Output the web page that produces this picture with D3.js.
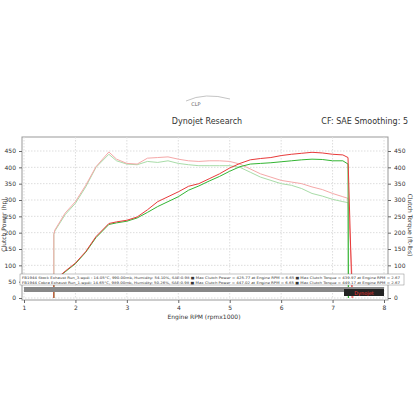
<!DOCTYPE html><html><head><meta charset="utf-8"><script src="https://d3js.org/d3.v7.min.js"></script>
<style>body{margin:0;background:#fff}text{font-family:"DejaVu Sans",sans-serif}</style></head><body><svg id="c" width="416" height="416"></svg>
<script>
const rpm = [1.58,1.6,1.8,2.0,2.2,2.4,2.65,2.8,3.0,3.2,3.4,3.6,3.8,4.0,4.2,4.4,4.6,4.8,5.0,5.2,5.4,5.6,5.8,6.0,6.2,6.4,6.6,6.8,7.0,7.2,7.3];
const powerStock = [40,55,80,105,140,185,225,230,235,245,262,280,295,310,330,343,358,372,388,402,410,412,414,417,420,423,425,424,420,420,410];
const powerCobra = [40,55,82,107,142,188,228,233,238,248,270,295,310,325,342,350,365,380,398,412,423,427,430,436,440,443,446,444,440,438,430];
const torqueStock = [195,205,255,290,340,400,440,420,410,408,418,415,420,412,408,405,405,405,405,400,385,370,360,350,345,335,320,312,302,295,292];
const torqueCobra = [195,208,260,295,345,402,447,425,412,410,428,430,432,425,420,418,420,420,418,410,395,380,370,360,355,350,340,332,320,310,305];
const xTicks=[1,2,3,4,5,6,7,8], yTicks=[0,50,100,150,200,250,300,350,400,450];
const svg=d3.select("#c");
const x=d3.scaleLinear().domain([1,8]).range([24,384]);
const y=d3.scaleLinear().domain([0,450]).range([298,151]);
const pTop=137,pBot=300;
svg.append("rect").attr("x",22).attr("y",pTop).attr("width",366).attr("height",pBot-pTop).attr("fill","#fff").attr("stroke","#999");
xTicks.forEach(t=>svg.append("line").attr("x1",x(t)).attr("x2",x(t)).attr("y1",pTop).attr("y2",pBot).attr("stroke","#ddd").attr("stroke-dasharray","1.5,1.5"));
yTicks.forEach(t=>svg.append("line").attr("x1",22).attr("x2",388).attr("y1",y(t)).attr("y2",y(t)).attr("stroke","#ddd").attr("stroke-dasharray","1.5,1.5"));
const sty=g=>{g.select(".domain").remove();g.selectAll("line").attr("stroke","#666");g.selectAll("text").attr("font-size",6).attr("fill","#333")};
svg.append("g").attr("transform","translate(0,"+pBot+")").call(d3.axisBottom(x).tickValues(xTicks).tickFormat(d3.format("d")).tickSize(3)).call(sty);
svg.append("g").attr("transform","translate(22,0)").call(d3.axisLeft(y).tickValues(yTicks).tickSize(3)).call(sty);
svg.append("g").attr("transform","translate(388,0)").call(d3.axisRight(y).tickValues(yTicks).tickSize(3)).call(sty);
const line=v=>d3.line().x((d,i)=>x(rpm[i])).y(d=>y(d))(v);
const drop=(v,xe,c,w)=>{svg.append("path").attr("d",line(v)+"L"+x(xe)+","+y(0)).attr("fill","none").attr("stroke",c).attr("stroke-width",w);
 svg.append("line").attr("x1",x(rpm[0])).attr("x2",x(rpm[0])).attr("y1",y(0)).attr("y2",y(v[0])).attr("stroke",c).attr("stroke-width",w);};
drop(torqueStock,7.3,"#a8dca8",1);
drop(torqueCobra,7.4,"#f5a8a8",1);
drop(powerStock,7.31,"#33b533",1);
drop(powerCobra,7.38,"#e83a3a",1);
svg.append("rect").attr("x",24).attr("y",287).attr("width",360).attr("height",5).attr("fill","#888");
svg.append("rect").attr("x",344).attr("y",289).attr("width",40).attr("height",7).attr("fill","#222");
svg.append("text").attr("x",364).attr("y",295).attr("text-anchor","middle").attr("font-size",5).attr("fill","#e33").text("Dynojet");
const leg=["FB1944 Stock Exhaust Run_3.wpdi : 14.05°C, 990.00mb, Humidity: 54.10%, SAE:0.98 ■ Max Clutch Power = 425.77 at Engine RPM = 6.65 ■ Max Clutch Torque = 439.97 at Engine RPM = 2.67",
"FB1944 Cobra Exhaust Run_1.wpdi: 14.65°C, 989.00mb, Humidity: 50.26%, SAE:0.98 ■ Max Clutch Power = 447.02 at Engine RPM = 6.65 ■ Max Clutch Torque = 449.17 at Engine RPM = 2.67"];
svg.append("rect").attr("x",20).attr("y",274).attr("width",384).attr("height",11).attr("fill","#fff").attr("stroke","#888").attr("stroke-width",0.5);
leg.forEach((t,i)=>svg.append("text").attr("x",22).attr("y",278.5+i*5).attr("font-size",3.4).attr("fill","#333").attr("textLength",378).attr("lengthAdjust","spacingAndGlyphs").text(t));
svg.append("text").attr("x",207).attr("y",124).attr("text-anchor","middle").attr("font-size",8).attr("fill","#333").text("Dynojet Research");
svg.append("text").attr("x",408).attr("y",124).attr("text-anchor","end").attr("font-size",8).attr("fill","#333").text("CF: SAE Smoothing: 5");
svg.append("text").attr("x",196).attr("y",106).attr("text-anchor","middle").attr("font-size",5).attr("fill","#666").text("CLP");
svg.append("path").attr("d","M186,101 Q205,92 230,99").attr("fill","none").attr("stroke","#aaa").attr("stroke-width",0.7);
svg.append("text").attr("x",204).attr("y",319).attr("text-anchor","middle").attr("font-size",6).attr("fill","#333").text("Engine RPM (rpmx1000)");
svg.append("text").attr("transform","translate(6,225) rotate(-90)").attr("text-anchor","middle").attr("font-size",6).attr("fill","#333").text("Clutch Power (hp)");
svg.append("text").attr("transform","translate(408,225) rotate(90)").attr("text-anchor","middle").attr("font-size",6).attr("fill","#333").text("Clutch Torque (ft-lbs)");
</script></body></html>
